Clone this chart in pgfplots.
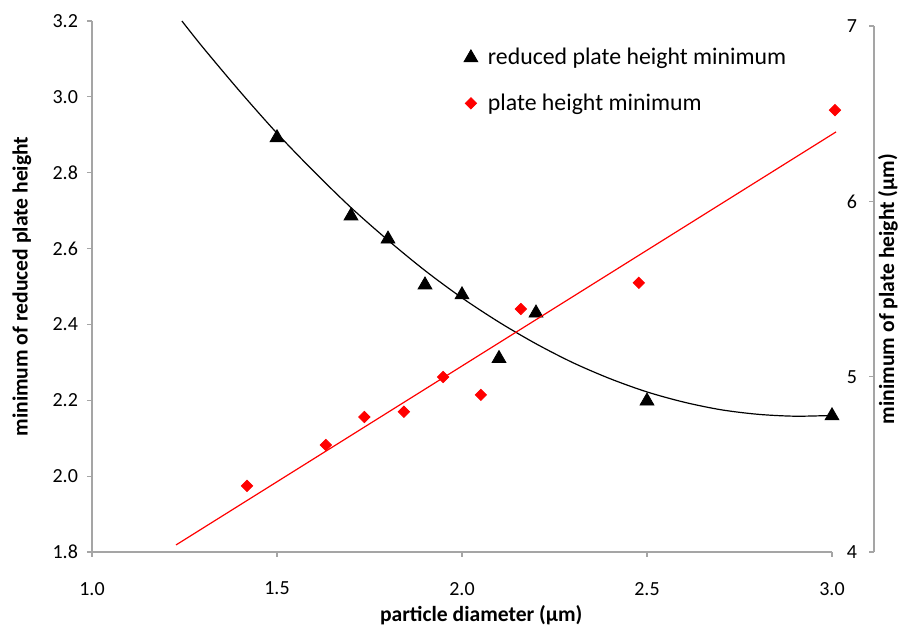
\documentclass[border=0pt]{standalone}
\usepackage{fontspec}
\setmainfont{Carlito}
\usepackage{pgfplots}
\pgfplotsset{compat=1.18}
\definecolor{axgray}{RGB}{165,165,165}
\definecolor{ptred}{RGB}{255,0,0}

\begin{document}
\begin{tikzpicture}
\useasboundingbox (-46pt,-39pt) rectangle (407.5pt,276pt);
% left axis: reduced plate height
\begin{axis}[
  scale only axis, width=370pt, height=265.5pt,
  at={(0,0)}, anchor=south west,
  xmin=1, xmax=3, ymin=1.8, ymax=3.2,
  axis x line*=bottom, axis y line*=left,
  axis line style={axgray, line width=0.6pt, -},
  tick style={axgray, line width=0.6pt},
  tick align=outside, major tick length=2.5pt,
  xtick={1,1.5,2,2.5,3},
  ytick={1.8,2.0,2.2,2.4,2.6,2.8,3.0,3.2},
  /pgf/number format/fixed, /pgf/number format/fixed zerofill,
  /pgf/number format/precision=1,
  /pgf/number format/assume math mode=true,
  ticklabel style={font=\fontsize{10}{12}\selectfont, black},
  xticklabel style={yshift=-9pt},
  yticklabel style={xshift=-1pt},
  xlabel={particle diameter (μm)},
  ylabel={minimum of reduced plate height},
  label style={font=\fontsize{10.8}{13}\selectfont\bfseries},
  xlabel style={at={(axis description cs:0.526,-0.1187)}, anchor=center},
  ylabel style={at={(axis description cs:-0.0946,0.5)}, anchor=center, rotate=0},
  clip=false,
]
\addplot[black, line width=0.6pt, smooth, no markers] coordinates {
  (1.243,3.200) (1.3,3.130) (1.4,3.014) (1.5,2.904) (1.6,2.803)
  (1.7,2.708) (1.8,2.622) (1.9,2.542) (2.0,2.470) (2.1,2.406)
  (2.2,2.349) (2.3,2.299) (2.4,2.257) (2.5,2.222) (2.6,2.195)
  (2.7,2.175) (2.8,2.163) (2.9,2.158) (3.0,2.160)
};
\addplot[only marks, mark=triangle*, mark size=4pt, black] coordinates {
  (1.5,2.892) (1.7,2.686) (1.8,2.625) (1.9,2.504) (2.0,2.478)
  (2.1,2.310) (2.2,2.430) (2.5,2.198) (3.0,2.159)
};
\end{axis}
% right axis: plate height
\begin{axis}[
  scale only axis, width=391pt, height=263pt,
  at={(0,0)}, anchor=south west,
  xmin=1, xmax=3.1135, ymin=4, ymax=7,
  axis x line=none, axis y line*=right,
  axis line style={axgray, line width=0.6pt, -},
  tick style={axgray, line width=0.6pt},
  tick align=inside, major tick length=2.5pt,
  ytick={4,5,6,7},
  /pgf/number format/assume math mode=true,
  ticklabel style={font=\fontsize{10}{12}\selectfont, black},
  yticklabel style={anchor=east, xshift=-5pt},
  ylabel={minimum of plate height (μm)},
  label style={font=\fontsize{10.8}{13}\selectfont\bfseries},
  ylabel style={at={(axis description cs:1.0179,0.5)}, anchor=center, rotate=0},
  legend style={at={(axis description cs:0.4674,0.974)}, anchor=north west,
    draw=none, fill=none, font=\fontsize{11.9}{14}\selectfont, row sep=9pt},
  legend cell align=left,
  legend image code/.code={\path[draw=none, fill=none] (0.18cm-3.5pt,0cm) -- (0.18cm+6.5pt,0cm);
    \draw[mark repeat=2,mark phase=2,#1] plot coordinates {(0cm,0cm) (0.18cm,0cm) (0.36cm,0cm)};},
  clip=false,
]
\addlegendimage{only marks, mark=triangle*, mark size=4pt, black}
\addlegendentry{reduced plate height minimum}
\addplot[only marks, mark=square*, mark size=2pt, mark options={rotate=45}, ptred] coordinates {
  (1.419,4.377) (1.632,4.610) (1.736,4.770) (1.843,4.800) (1.949,4.998)
  (2.051,4.896) (2.159,5.386) (2.478,5.535) (3.008,6.520)
};
\addlegendentry{plate height minimum}
\addplot[ptred, line width=0.6pt, no markers, forget plot] coordinates {
  (1.227,4.040) (3.011,6.396)
};
\end{axis}
\end{tikzpicture}
\end{document}
